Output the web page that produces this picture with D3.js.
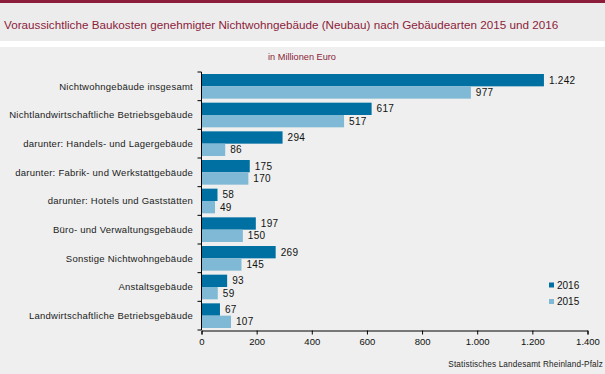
<!DOCTYPE html>
<html>
<head>
<meta charset="utf-8">
<script src="https://cdn.jsdelivr.net/npm/d3@7"></script>
<style>
  body { margin: 0; background: #fff; }
  svg { display: block; font-family: "Liberation Sans", Arial, sans-serif; }
</style>
</head>
<body>
<svg id="chart" width="605" height="374"></svg>
<script>
// categories, top to bottom
var categories = [
  "Nichtwohngebäude insgesamt",
  "Nichtlandwirtschaftliche Betriebsgebäude",
  "darunter: Handels- und Lagergebäude",
  "darunter: Fabrik- und Werkstattgebäude",
  "darunter: Hotels und Gaststätten",
  "Büro- und Verwaltungsgebäude",
  "Sonstige Nichtwohngebäude",
  "Anstaltsgebäude",
  "Landwirtschaftliche Betriebsgebäude"
];
var values2016 = [1242, 617, 294, 175, 58, 197, 269, 93, 67];
var values2015 = [977, 517, 86, 170, 49, 150, 145, 59, 107];
var seriesNames = ["2016", "2015"];
var xTicks = [0, 200, 400, 600, 800, 1000, 1200, 1400];

var colors = { "2016": "#0070a3", "2015": "#80b9d5" };
var titleColor = "#8c1d3b";

var svg = d3.select("#chart");

// backgrounds: top border, title band, chart panel
svg.append("rect").attr("x", 0).attr("y", 0).attr("width", 605).attr("height", 3).attr("fill", titleColor);
svg.append("rect").attr("x", 0).attr("y", 3).attr("width", 605).attr("height", 38).attr("fill", "#ececec");
svg.append("rect").attr("x", 0).attr("y", 47).attr("width", 605).attr("height", 327).attr("fill", "#eeefee");

svg.append("text")
  .attr("x", 4).attr("y", 29)
  .attr("font-size", 11.7)
  .attr("fill", titleColor)
  .text("Voraussichtliche Baukosten genehmigter Nichtwohngebäude (Neubau) nach Gebäudearten 2015 und 2016");

svg.append("text")
  .attr("x", 302).attr("y", 60)
  .attr("text-anchor", "middle")
  .attr("font-size", 9.2)
  .attr("fill", titleColor)
  .text("in Millionen Euro");

// scales
var x = d3.scaleLinear().domain([0, 1400]).range([201.5, 587.5]);
var y = d3.scaleBand().domain(categories).range([72, 330]).paddingInner(0.14).paddingOuter(0.07);
var ySub = d3.scaleBand().domain(seriesNames).range([0, y.bandwidth()]);

// rows as a table built from the arrays
var rows = categories.map(function (c, i) {
  return { cat: c, values: [ { s: "2016", v: values2016[i] }, { s: "2015", v: values2015[i] } ] };
});

var fmt = function (v) { return d3.format(",")(v).replace(/,/g, "."); };

var group = svg.append("g").selectAll(".row")
  .data(rows)
  .enter()
  .append("g")
  .attr("class", "row")
  .attr("transform", function (d) { return "translate(0," + y(d.cat) + ")"; });

group.selectAll("rect")
  .data(function (d) { return d.values; })
  .enter()
  .append("rect")
  .attr("x", x(0))
  .attr("y", function (d) { return ySub(d.s); })
  .attr("width", function (d) { return x(d.v) - x(0); })
  .attr("height", ySub.bandwidth())
  .attr("fill", function (d) { return colors[d.s]; });

group.selectAll(".val")
  .data(function (d) { return d.values; })
  .enter()
  .append("text")
  .attr("class", "val")
  .attr("x", function (d) { return x(d.v) + 5; })
  .attr("y", function (d) { return ySub(d.s) + ySub.bandwidth() / 2; })
  .attr("dy", "0.35em")
  .attr("font-size", 10)
  .attr("letter-spacing", 0.3)
  .attr("fill", "#111")
  .text(function (d) { return fmt(d.v); });

// y axis: line, ticks at band boundaries, labels
var yAxis = svg.append("g");
yAxis.append("line")
  .attr("x1", x(0)).attr("x2", x(0))
  .attr("y1", 72).attr("y2", 330)
  .attr("stroke", "#000").attr("stroke-width", 1);
d3.range(categories.length + 1).forEach(function (i) {
  var yy = 72 + i * (258 / categories.length);
  yAxis.append("line")
    .attr("x1", x(0) - 4).attr("x2", x(0))
    .attr("y1", yy).attr("y2", yy)
    .attr("stroke", "#000");
});
yAxis.selectAll(".cat")
  .data(categories)
  .enter()
  .append("text")
  .attr("x", 193)
  .attr("y", function (c) { return y(c) + y.bandwidth() / 2; })
  .attr("dy", "0.35em")
  .attr("text-anchor", "end")
  .attr("font-size", 9.5)
  .attr("letter-spacing", 0.25)
  .attr("fill", "#222")
  .text(function (c) { return c; });

// x axis
var xAxis = svg.append("g")
  .attr("transform", "translate(0,330.5)")
  .call(d3.axisBottom(x).tickValues(xTicks).tickSize(4).tickPadding(4).tickFormat(fmt));
xAxis.select(".domain").attr("stroke", "#000");
xAxis.selectAll("text").attr("font-size", 9.5).attr("fill", "#111").attr("font-family", "Liberation Sans, Arial, sans-serif");

// legend
var legend = svg.append("g").selectAll(".leg")
  .data(seriesNames)
  .enter()
  .append("g")
  .attr("transform", function (d, i) { return "translate(549," + (285 + i * 16.5) + ")"; });
legend.append("rect")
  .attr("x", 0).attr("y", -2.5)
  .attr("width", 5).attr("height", 5)
  .attr("fill", function (d) { return colors[d]; });
legend.append("text")
  .attr("x", 8).attr("y", 0).attr("dy", "0.35em")
  .attr("font-size", 10).attr("fill", "#111")
  .text(function (d) { return d; });

svg.append("text")
  .attr("x", 603).attr("y", 367)
  .attr("text-anchor", "end")
  .attr("font-size", 8.2)
  .attr("letter-spacing", 0.15)
  .attr("fill", "#222")
  .text("Statistisches Landesamt Rheinland-Pfalz");
</script>
</body>
</html>
